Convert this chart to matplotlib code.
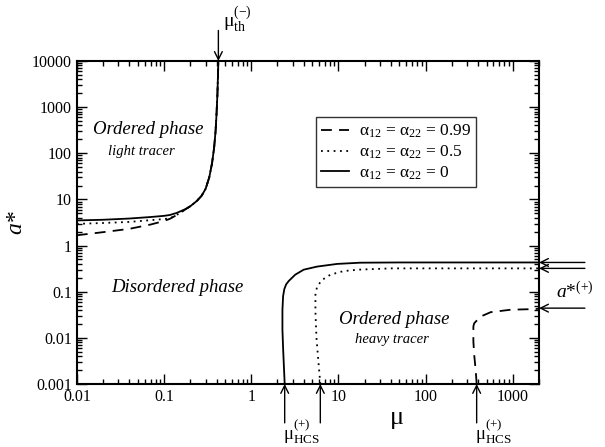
import numpy as np
import matplotlib
matplotlib.use("Agg")
import matplotlib.pyplot as plt
from matplotlib.ticker import LogLocator, FixedLocator, NullFormatter

plt.rcParams['font.family'] = ['Liberation Serif', 'DejaVu Serif']
plt.rcParams['mathtext.fontset'] = 'custom'
plt.rcParams['mathtext.rm'] = 'Liberation Serif'
plt.rcParams['mathtext.it'] = 'Liberation Serif:italic'

# light tracer branch (mu, a*)
light_mu_0 = [0.01, 0.02, 0.04, 0.07, 0.1, 0.117, 0.14, 0.174, 0.2, 0.237, 0.27, 0.30, 0.33, 0.355, 0.375, 0.39, 0.40, 0.41, 0.42]
light_a_0 = [3.5, 3.62, 3.85, 4.15, 4.4, 4.6, 5.1, 6.1, 7.1, 9.2, 12, 17, 30, 60, 130, 300, 700, 2000, 10000]
light_mu_05 = [0.01, 0.02, 0.04, 0.07, 0.1, 0.117, 0.14, 0.174, 0.2, 0.237, 0.27, 0.30, 0.33, 0.355, 0.375, 0.39, 0.40, 0.41, 0.42]
light_a_05 = [2.95, 3.08, 3.25, 3.55, 3.75, 3.9, 4.6, 6.05, 7.1, 9.2, 12, 17, 30, 60, 130, 300, 700, 2000, 10000]
light_mu_099 = [0.01, 0.02, 0.04, 0.07, 0.098, 0.117, 0.139, 0.174, 0.2, 0.237, 0.27, 0.30, 0.33, 0.355, 0.375, 0.39, 0.40, 0.41, 0.42]
light_a_099 = [1.67, 1.95, 2.3, 2.85, 3.37, 3.8, 4.56, 6.0, 7.1, 9.2, 12, 17, 30, 60, 130, 300, 700, 2000, 10000]

# heavy tracer branch
heavy_mu_0 = [2.42, 2.38, 2.32, 2.28, 2.28, 2.32, 2.4, 2.52, 2.69, 3.2, 4.0, 5.7, 9.7, 17.8, 50, 2000]
heavy_a_0 = [0.001, 0.002, 0.006, 0.015, 0.04, 0.08, 0.115, 0.145, 0.17, 0.234, 0.30, 0.35, 0.40, 0.425, 0.43, 0.43]
heavy_mu_05 = [6.2, 5.9, 5.6, 5.45, 5.45, 5.7, 6.5, 8.1, 11.5, 17, 40, 2000]
heavy_a_05 = [0.001, 0.003, 0.01, 0.037, 0.086, 0.13, 0.18, 0.234, 0.28, 0.30, 0.32, 0.32]
heavy_mu_099 = [385, 375, 362, 353, 353, 360, 376, 429, 558, 950, 1800, 2000]
heavy_a_099 = [0.001, 0.002, 0.004, 0.0083, 0.0176, 0.0205, 0.0225, 0.029, 0.036, 0.0407, 0.042, 0.043]

legend_labels = [r'α$_{12}$ = α$_{22}$ = 0.99',
                 r'α$_{12}$ = α$_{22}$ = 0.5',
                 r'α$_{12}$ = α$_{22}$ = 0']

mu_th = 0.42
mu_hcs = [2.42, 6.2, 385]
a_plus = [0.43, 0.32, 0.044]

fig = plt.figure(figsize=(6.05, 4.47), dpi=100)
ax = fig.add_axes([0.127, 0.141, 0.764, 0.7226])

lw = 1.3
dash = (0, (6, 4))
dot = (0, (1, 2.5))
l1, = ax.plot(light_mu_099, light_a_099, color='k', lw=lw, linestyle=dash)
l2, = ax.plot(light_mu_05, light_a_05, color='k', lw=lw, linestyle=dot)
l3, = ax.plot(light_mu_0, light_a_0, color='k', lw=lw, linestyle='-')
ax.plot(heavy_mu_099, heavy_a_099, color='k', lw=lw, linestyle=dash)
ax.plot(heavy_mu_05, heavy_a_05, color='k', lw=lw, linestyle=dot)
ax.plot(heavy_mu_0, heavy_a_0, color='k', lw=lw, linestyle='-')

ax.set_xscale('log')
ax.set_yscale('log')
ax.set_xlim(0.01, 2000)
ax.set_ylim(0.001, 10000)

ax.xaxis.set_major_locator(FixedLocator([0.01, 0.1, 1, 10, 100, 1000]))
ax.set_xticklabels(['0.01', '0.1', '1', '10', '100', '1000'])
ax.xaxis.set_minor_locator(LogLocator(base=10, subs=np.arange(2, 10)))
ax.xaxis.set_minor_formatter(NullFormatter())
ax.yaxis.set_major_locator(FixedLocator([0.001, 0.01, 0.1, 1, 10, 100, 1000, 10000]))
ax.set_yticklabels(['0.001', '0.01', '0.1', '1', '10', '100', '1000', '10000'])
ax.yaxis.set_minor_locator(LogLocator(base=10, subs=np.arange(2, 10)))
ax.yaxis.set_minor_formatter(NullFormatter())
ax.tick_params(which='both', direction='in', top=True, right=True, labelsize=11.5, width=1.0)
ax.tick_params(which='major', length=7)
ax.tick_params(which='minor', length=3.5)
for s in ax.spines.values():
    s.set_linewidth(1.5)


def px_text(x, y, s, **kw):
    fig.text(x / 605, 1 - y / 447, s, **kw)


px_text(397, 420, r'$\mathrm{\mu}$', fontsize=19, ha='center', va='center')
px_text(16, 222, 'a*', fontsize=17, style='italic', rotation=90, ha='center', va='center')

leg = ax.legend([l1, l2, l3], legend_labels, loc='upper left', bbox_to_anchor=(0.518, 0.825),
                fontsize=12.5, frameon=True, fancybox=False, edgecolor='k', handlelength=1.6,
                borderpad=0.3, labelspacing=0.2, handletextpad=0.55, borderaxespad=0)
leg.get_frame().set_linewidth(1.0)

px_text(148, 130, 'Ordered phase', fontsize=13.5, style='italic', ha='center', va='center')
px_text(141, 152, 'light tracer', fontsize=10.5, style='italic', ha='center', va='center')
px_text(177, 287, 'Disordered phase', fontsize=13.5, style='italic', ha='center', va='center')
px_text(394, 320, 'Ordered phase', fontsize=13.5, style='italic', ha='center', va='center')
px_text(392, 340, 'heavy tracer', fontsize=10.5, style='italic', ha='center', va='center')

arrow = dict(arrowstyle='->', color='k', lw=1.0, mutation_scale=14, shrinkA=0, shrinkB=0)
ax.annotate('', xy=(mu_th, 1.0), xycoords=('data', 'axes fraction'),
            xytext=(0, 22), textcoords='offset points', arrowprops=arrow)
ax.annotate(r'$\mathrm{\mu}^{(-)}_{\mathrm{th}}$', xy=(mu_th, 1.0), xycoords=('data', 'axes fraction'),
            xytext=(3, 30), textcoords='offset points', fontsize=14, ha='left', va='center')
for m in mu_hcs:
    ax.annotate('', xy=(m, 0.0), xycoords=('data', 'axes fraction'),
                xytext=(0, -28), textcoords='offset points', arrowprops=arrow)
for m in (mu_hcs[0], mu_hcs[2]):
    ax.annotate(r'$\mathrm{\mu}^{(+)}_{\mathrm{HCS}}$', xy=(m, 0.0), xycoords=('data', 'axes fraction'),
                xytext=(-1, -34), textcoords='offset points', fontsize=13.5, ha='left', va='center')
for a in a_plus:
    ax.annotate('', xy=(1.0, a), xycoords=('axes fraction', 'data'),
                xytext=(33, 0), textcoords='offset points', arrowprops=arrow, annotation_clip=False)
px_text(556, 292, r'$\mathit{a}$*$^{(+)}$', fontsize=14, ha='left', va='center')

fig.savefig('out.png', dpi=100)
